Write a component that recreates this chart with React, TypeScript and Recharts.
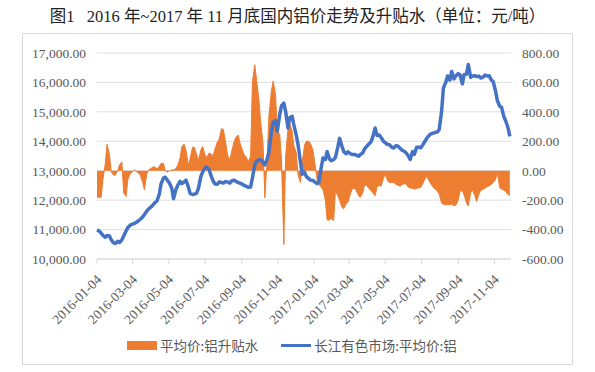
import { ComposedChart, Area, Line, XAxis, YAxis, CartesianGrid } from "recharts";

const title = "图1\u00a0\u00a0\u00a02016 年~2017 年 11 月底国内铝价走势及升贴水（单位：元/吨）";
const seriesNames = ["平均价:铝升贴水", "长江有色市场:平均价:铝"];

const dates = [
  "2016-01-04", "2016-01-07", "2016-01-11", "2016-01-14", "2016-01-18", "2016-01-21", "2016-01-25", "2016-01-28",
  "2016-02-01", "2016-02-04", "2016-02-08", "2016-02-11", "2016-02-15", "2016-02-18", "2016-02-22", "2016-02-25", "2016-02-29",
  "2016-03-03", "2016-03-07", "2016-03-10", "2016-03-14", "2016-03-17", "2016-03-21", "2016-03-24", "2016-03-28", "2016-03-31",
  "2016-04-04", "2016-04-07", "2016-04-11", "2016-04-14", "2016-04-18", "2016-04-21", "2016-04-25", "2016-04-28",
  "2016-05-02", "2016-05-05", "2016-05-09", "2016-05-12", "2016-05-16", "2016-05-19", "2016-05-23", "2016-05-26", "2016-05-30",
  "2016-06-02", "2016-06-06", "2016-06-09", "2016-06-13", "2016-06-16", "2016-06-20", "2016-06-23", "2016-06-27", "2016-06-30",
  "2016-07-04", "2016-07-07", "2016-07-11", "2016-07-14", "2016-07-18", "2016-07-21", "2016-07-25", "2016-07-28",
  "2016-08-01", "2016-08-04", "2016-08-08", "2016-08-11", "2016-08-15", "2016-08-18", "2016-08-22", "2016-08-25", "2016-08-29",
  "2016-09-01", "2016-09-05", "2016-09-08", "2016-09-12", "2016-09-15", "2016-09-19", "2016-09-22", "2016-09-26", "2016-09-29",
  "2016-10-03", "2016-10-06", "2016-10-10", "2016-10-13", "2016-10-17", "2016-10-20", "2016-10-24", "2016-10-27", "2016-10-31",
  "2016-11-03", "2016-11-07", "2016-11-10", "2016-11-14", "2016-11-17", "2016-11-21", "2016-11-24", "2016-11-28",
  "2016-12-01", "2016-12-05", "2016-12-08", "2016-12-12", "2016-12-15", "2016-12-19", "2016-12-22", "2016-12-26", "2016-12-29",
  "2017-01-02", "2017-01-05", "2017-01-09", "2017-01-12", "2017-01-16", "2017-01-19", "2017-01-23", "2017-01-26", "2017-01-30",
  "2017-02-02", "2017-02-06", "2017-02-09", "2017-02-13", "2017-02-16", "2017-02-20", "2017-02-23", "2017-02-27",
  "2017-03-02", "2017-03-06", "2017-03-09", "2017-03-13", "2017-03-16", "2017-03-20", "2017-03-23", "2017-03-27", "2017-03-30",
  "2017-04-03", "2017-04-06", "2017-04-10", "2017-04-13", "2017-04-17", "2017-04-20", "2017-04-24", "2017-04-27",
  "2017-05-01", "2017-05-04", "2017-05-08", "2017-05-11", "2017-05-15", "2017-05-18", "2017-05-22", "2017-05-25", "2017-05-29",
  "2017-06-01", "2017-06-05", "2017-06-08", "2017-06-12", "2017-06-15", "2017-06-19", "2017-06-22", "2017-06-26", "2017-06-29",
  "2017-07-03", "2017-07-06", "2017-07-10", "2017-07-13", "2017-07-17", "2017-07-20", "2017-07-24", "2017-07-27", "2017-07-31",
  "2017-08-03", "2017-08-07", "2017-08-10", "2017-08-14", "2017-08-17", "2017-08-21", "2017-08-24", "2017-08-28", "2017-08-31",
  "2017-09-04", "2017-09-07", "2017-09-11", "2017-09-14", "2017-09-18", "2017-09-21", "2017-09-25", "2017-09-28",
  "2017-10-02", "2017-10-05", "2017-10-09", "2017-10-12", "2017-10-16", "2017-10-19", "2017-10-23", "2017-10-26", "2017-10-30",
  "2017-11-02", "2017-11-06", "2017-11-09", "2017-11-13", "2017-11-16", "2017-11-20", "2017-11-23", "2017-11-27", "2017-11-30",
];

// 长江有色市场 铝均价 (元/吨), left axis
const alPrice = [
  10990, 10960, 10880, 10800, 10740, 10800, 10780, 10650,
  10550, 10530, 10600, 10560, 10650, 10780, 10950, 11070, 11150,
  11180, 11210, 11240, 11300, 11350, 11430, 11510, 11630, 11700,
  11770, 11830, 11920, 11970, 12200, 12550, 12750, 12780,
  12670, 12580, 12410, 12050, 12350, 12500, 12640, 12560, 12620,
  12680, 12450, 12230, 12190, 12200, 12240, 12400, 12800, 12950,
  13090, 13120, 13040, 12850, 12640, 12550, 12540, 12620,
  12600, 12580, 12630, 12620, 12580, 12650, 12680, 12640, 12600,
  12580, 12540, 12500, 12470, 12440, 12450, 12750, 13200, 13320,
  13370, 13375, 13280, 13200, 13400, 13650, 14330, 14650, 14700,
  14340, 14900, 15200, 15300, 15020, 14450, 14800, 14850,
  14550, 14200, 13880, 13300, 12880, 12950, 12800, 12730, 12680,
  12670, 12620, 12560, 12600, 13100, 13430, 13380, 13650, 13400,
  13340, 13380, 13450, 13800, 14100, 13830, 13650, 13580,
  13640, 13580, 13550, 13555, 13530, 13490, 13550, 13600, 13740,
  13830, 13900, 13980, 14150, 14450, 14200, 14210, 14130,
  14000, 13950, 13890, 13885, 13800, 13770, 13850, 13840, 13760,
  13700, 13660, 13610, 13500, 13380, 13650, 13555, 13800, 13800,
  13780, 13870, 14000, 14110, 14200, 14250, 14280, 14300, 14320,
  14400, 15020, 15810, 16000, 16220, 16080, 16370, 16120, 16220,
  16300, 16260, 15950, 16270, 16280, 16610, 16170, 16220,
  16230, 16200, 16215, 16150, 16180, 16250, 16220, 16230, 16080,
  16030, 15700, 15380, 15190, 15160, 14830, 14700, 14460, 14170,
];

// 铝升贴水 (元/吨), right axis
const alPremium = [
  -180, -180, -180, -60, 50, 180, 110, -10,
  -30, -30, 0, 40, 60, -150, -175, -60, -20,
  -10, 5, -5, -15, -30, -80, -130, -20, 5,
  15, 25, 25, 10, 30, 50, 50, 0,
  -10, 0, 5, 5, 15, 35, 85, 165, 180,
  140, 40, 80, 160, 160, 110, 70, 140, 165,
  110, 90, 120, 115, 100, 150, 196, 215,
  287, 280, 190, 110, 68, 130, 196, 225, 242,
  190, 140, 110, 90, 60, 100, 600, 720, 620,
  480, 330, 180, -185, 100, 380, 540, 610, 516,
  267, 250, 80, -503, 100, 280, 320, 267,
  170, 120, -30, -80, 60, 176, 200, 200, 185,
  140, 60, -60, -95, -110, -130, -200, -335, -335,
  -325, -340, -138, -170, -200, -250, -258, -225,
  -215, -160, -125, -120, -135, -170, -180, -150, -100,
  -100, -120, -135, -150, -170, -110, -100, -105,
  -50, -24, -70, -80, -80, -80, -92, -98, -105,
  -95, -88, -90, -112, -118, -120, -125, -120, -118,
  -112, -90, -56, -40, -70, -90, -112, -125, -138,
  -160, -220, -228, -231, -231, -229, -228, -240, -233,
  -200, -140, -135, -165, -220, -240, -150, -130,
  -170, -209, -160, -133, -127, -118, -108, -103, -93,
  -80, -60, -10, -115, -125, -132, -140, -162, -168,
];

const tickDates = [
  "2016-01-04", "2016-03-04", "2016-05-04", "2016-07-04", "2016-09-04", "2016-11-04",
  "2017-01-04", "2017-03-04", "2017-05-04", "2017-07-04", "2017-09-04", "2017-11-04",
];
const priceTicks = [10000, 11000, 12000, 13000, 14000, 15000, 16000, 17000];
const premiumTicks = [-600, -400, -200, 0, 200, 400, 600, 800];

const origin = Date.UTC(2016, 0, 4);
const toDay = (s: string) => {
  const [y, m, d] = s.split("-").map(Number);
  return Math.round((Date.UTC(y, m - 1, d) - origin) / 86400000);
};

const data = dates.map((d, i) => ({
  t: toDay(d),
  price: alPrice[i],
  premium: alPremium[i],
}));
const tickDays = tickDates.map(toDay);

const ORANGE = "#ED7D31";
const BLUE = "#4472C4";
const AXIS_TEXT = "#595959";
const SERIF = '"Liberation Serif", "Times New Roman", serif';
const CJK = '"Noto Sans CJK SC", "Noto Sans", sans-serif';

const DateTick = (props: any) => {
  const { x, y, payload } = props;
  const label = tickDates[tickDays.indexOf(payload.value)];
  const px = x + 2;
  const py = y + 11;
  return (
    <text
      x={px}
      y={py}
      dy="0.35em"
      transform={`rotate(-45 ${px} ${py})`}
      textAnchor="end"
      fill={AXIS_TEXT}
      fontSize={13.5}
      fontFamily={SERIF}
    >
      {label}
    </text>
  );
};

const fmtPrice = (v: number) =>
  v.toLocaleString("en-US", { minimumFractionDigits: 2, maximumFractionDigits: 2 });
const fmtPremium = (v: number) => v.toFixed(2);

export default function App() {
  return (
    <div style={{ position: "absolute", left: 0, top: 0, width: 595, height: 372, background: "#fff" }}>
      <div
        style={{
          position: "absolute",
          top: 8,
          left: 0,
          width: 595,
          textAlign: "center",
          fontSize: 16.5,
          lineHeight: "18px",
          fontFamily: '"Liberation Serif", "Noto Sans CJK SC", serif',
          color: "#222",
          whiteSpace: "pre",
        }}
      >
        {title}
      </div>
      <div
        style={{
          position: "absolute",
          left: 22,
          top: 33,
          width: 551,
          height: 332,
          border: "1px solid #d9d9d9",
          boxSizing: "border-box",
        }}
      />
      <div style={{ position: "absolute", left: 23, top: 34 }}>
        <ComposedChart
          width={549}
          height={330}
          data={data}
          margin={{ top: 19, right: 0, bottom: 45, left: 0 }}
        >
          <CartesianGrid yAxisId="left" vertical={false} stroke="#dedede" />
          <XAxis
            dataKey="t"
            type="number"
            domain={[0, 698]}
            ticks={tickDays}
            interval={0}
            height={60}
            tickSize={5}
            tickMargin={2}
            axisLine={{ stroke: "#d9d9d9" }}
            tickLine={{ stroke: "#d9d9d9" }}
            tick={<DateTick />}
          />
          <YAxis
            yAxisId="left"
            orientation="left"
            domain={[10000, 17000]}
            ticks={priceTicks}
            width={74}
            axisLine={false}
            tickLine={false}
            tickSize={0}
            tickMargin={11}
            tickFormatter={fmtPrice}
            tick={{ fill: AXIS_TEXT, fontSize: 13.5, fontFamily: SERIF }}
          />
          <YAxis
            yAxisId="right"
            orientation="right"
            domain={[-600, 800]}
            ticks={premiumTicks}
            width={61}
            axisLine={false}
            tickLine={false}
            tickSize={0}
            tickMargin={11}
            tickFormatter={fmtPremium}
            tick={{ fill: AXIS_TEXT, fontSize: 13.5, fontFamily: SERIF, textAnchor: "start" }}
          />
          <Area
            yAxisId="right"
            dataKey="premium"
            name={seriesNames[0]}
            type="linear"
            baseValue={0}
            fill={ORANGE}
            fillOpacity={1}
            stroke={ORANGE}
            strokeWidth={1}
            isAnimationActive={false}
          />
          <Line
            yAxisId="left"
            dataKey="price"
            name={seriesNames[1]}
            type="linear"
            stroke={BLUE}
            strokeWidth={3.5}
            strokeLinejoin="round"
            dot={false}
            isAnimationActive={false}
          />
        </ComposedChart>
      </div>
      <div
        style={{
          position: "absolute",
          top: 336,
          left: 127,
          height: 18,
          display: "flex",
          alignItems: "center",
          fontFamily: CJK,
          fontSize: 13.5,
          color: AXIS_TEXT,
        }}
      >
        <span style={{ display: "inline-block", width: 30, height: 9, background: ORANGE, marginRight: 3 }} />
        <span>{seriesNames[0]}</span>
        <span style={{ display: "inline-block", width: 30, height: 3, background: BLUE, marginLeft: 23, marginRight: 3 }} />
        <span>{seriesNames[1]}</span>
      </div>
    </div>
  );
}
